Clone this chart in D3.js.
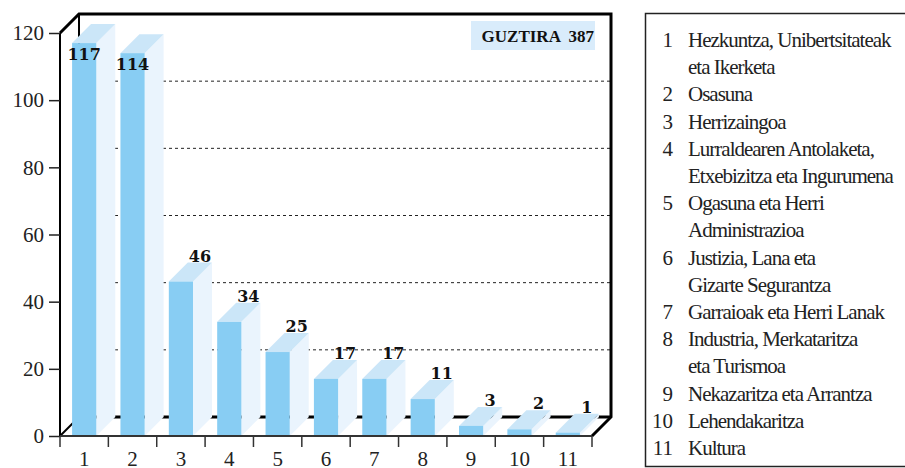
<!DOCTYPE html>
<html>
<head>
<meta charset="utf-8">
<script src="https://cdn.jsdelivr.net/npm/d3@7"></script>
<style>
  body { margin: 0; background: #fff; }
  svg { display: block; }
</style>
</head>
<body>
<div id="chart"></div>
<script>
// datuak
var categories = ["1", "2", "3", "4", "5", "6", "7", "8", "9", "10", "11"];
var values = [117, 114, 46, 34, 25, 17, 17, 11, 3, 2, 1];
var yTicks = [0, 20, 40, 60, 80, 100, 120];
var legendNames = [
    ["Hezkuntza, Unibertsitateak", "eta Ikerketa"],
    ["Osasuna"],
    ["Herrizaingoa"],
    ["Lurraldearen Antolaketa,", "Etxebizitza eta Ingurumena"],
    ["Ogasuna eta Herri", "Administrazioa"],
    ["Justizia, Lana eta", "Gizarte Segurantza"],
    ["Garraioak eta Herri Lanak"],
    ["Industria, Merkataritza", "eta Turismoa"],
    ["Nekazaritza eta Arrantza"],
    ["Lehendakaritza"],
    ["Kultura"]
];
var totalLabel = "GUZTIRA";

var width = 905, height = 468;
var depth = 19;               // 3D sakonera
var plotLeft = 60, plotRight = 592, plotBottom = 436, plotTop = 33;

var svg = d3.select("#chart")
    .append("svg")
    .attr("width", width)
    .attr("height", height);

var x = d3.scaleBand()
    .domain(categories)
    .range([plotLeft, plotRight])
    .paddingInner(0.5)
    .paddingOuter(0.25);

var xEdge = d3.scaleLinear().domain([0, categories.length]).range([plotLeft, plotRight]);

var y = d3.scaleLinear().domain([0, 120]).range([plotBottom, plotTop]);

// atzeko horma
var back = svg.append("g");
back.selectAll(".grid")
    .data(yTicks.filter(d => d > 0 && d < 120))
    .enter()
    .append("line")
    .attr("x1", plotLeft + depth)
    .attr("x2", plotRight + depth)
    .attr("y1", d => y(d) - depth)
    .attr("y2", d => y(d) - depth)
    .attr("stroke", "#222")
    .attr("stroke-width", 1)
    .attr("stroke-dasharray", "3,3");

back.append("line")   // ezkerreko atzeko lerroa
    .attr("x1", plotLeft + depth).attr("x2", plotLeft + depth)
    .attr("y1", y(120) - depth).attr("y2", y(0) - depth)
    .attr("stroke", "#000").attr("stroke-width", 2);

back.append("path")   // goiko eta eskuineko ertzak
    .attr("d", "M" + plotLeft + "," + y(120) +
        "L" + (plotLeft + depth) + "," + (y(120) - depth) +
        "L" + (plotRight + depth) + "," + (y(120) - depth) +
        "L" + (plotRight + depth) + "," + (y(0) - depth) +
        "L" + plotRight + "," + y(0))
    .attr("fill", "none")
    .attr("stroke", "#000")
    .attr("stroke-width", 3)
    .attr("stroke-linejoin", "miter");

back.append("line")   // zoruaren atzeko lerroa
    .attr("x1", plotLeft + depth).attr("x2", plotRight + depth)
    .attr("y1", y(0) - depth).attr("y2", y(0) - depth)
    .attr("stroke", "#000").attr("stroke-width", 3);

back.append("line")   // ezkerreko behe diagonala
    .attr("x1", plotLeft).attr("x2", plotLeft + depth)
    .attr("y1", y(0)).attr("y2", y(0) - depth)
    .attr("stroke", "#000").attr("stroke-width", 2);

// barrak
var bars = svg.selectAll(".bar")
    .data(values)
    .enter()
    .append("g")
    .attr("class", "bar");

bars.append("path")   // alboa
    .attr("d", function (d, i) {
        var x1 = x(categories[i]) + x.bandwidth();
        return "M" + x1 + "," + y(d) + "L" + (x1 + depth) + "," + (y(d) - depth) +
            "L" + (x1 + depth) + "," + (y(0) - depth) + "L" + x1 + "," + y(0) + "Z";
    })
    .attr("fill", "#eaf4fd");

bars.append("path")   // goialdea
    .attr("d", function (d, i) {
        var x0 = x(categories[i]), x1 = x0 + x.bandwidth();
        return "M" + x0 + "," + y(d) + "L" + (x0 + depth) + "," + (y(d) - depth) +
            "L" + (x1 + depth) + "," + (y(d) - depth) + "L" + x1 + "," + y(d) + "Z";
    })
    .attr("fill", "#cbe6f8");

bars.append("rect")   // aurrealdea
    .attr("x", (d, i) => x(categories[i]))
    .attr("y", d => y(d))
    .attr("width", x.bandwidth())
    .attr("height", d => y(0) - y(d))
    .attr("fill", "#88cdf3");

function labelInside(d) { return y(d) - depth - 14 < plotTop; }

bars.append("text")
    .attr("x", function (d, i) {
        var cx = x(categories[i]) + x.bandwidth() / 2;
        return labelInside(d) ? cx : cx + depth;
    })
    .attr("y", d => labelInside(d) ? y(d) + 17 : y(d) - depth - 1)
    .attr("text-anchor", "middle")
    .style("font-family", "'DejaVu Serif', serif")
    .style("font-weight", "bold")
    .style("font-size", "16px")
    .attr("fill", "#111")
    .text(d => d);

// aurreko ardatzak
svg.append("line")
    .attr("x1", plotLeft).attr("x2", plotLeft)
    .attr("y1", y(120)).attr("y2", y(0))
    .attr("stroke", "#000").attr("stroke-width", 2);

svg.append("line")
    .attr("x1", plotLeft).attr("x2", plotRight)
    .attr("y1", y(0)).attr("y2", y(0))
    .attr("stroke", "#333").attr("stroke-width", 2);

var yAxis = svg.append("g")
    .attr("transform", "translate(" + plotLeft + ",0)")
    .call(d3.axisLeft(y).tickValues(yTicks).tickSize(11).tickPadding(5));
yAxis.select(".domain").remove();
yAxis.selectAll(".tick line").attr("stroke", "#222").attr("stroke-width", 1.5);
yAxis.selectAll("text")
    .style("font-family", "'Liberation Serif', serif")
    .style("font-size", "21px")
    .attr("fill", "#222");

svg.selectAll(".xtick")
    .data(d3.range(categories.length + 1))
    .enter()
    .append("line")
    .attr("x1", d => xEdge(d)).attr("x2", d => xEdge(d))
    .attr("y1", y(0)).attr("y2", y(0) + 11)
    .attr("stroke", "#333").attr("stroke-width", 1.5);

svg.selectAll(".xlabel")
    .data(categories)
    .enter()
    .append("text")
    .attr("x", d => x(d) + x.bandwidth() / 2)
    .attr("y", 466)
    .attr("text-anchor", "middle")
    .style("font-family", "'Liberation Serif', serif")
    .style("font-size", "21px")
    .attr("fill", "#222")
    .text(d => d);

// guztira koadroa
svg.append("rect")
    .attr("x", 471).attr("y", 21)
    .attr("width", 124).attr("height", 29)
    .attr("fill", "#d9ecfb");
svg.append("text")
    .attr("x", 594).attr("y", 42)
    .attr("text-anchor", "end")
    .style("font-family", "'Liberation Serif', serif")
    .style("font-weight", "bold")
    .style("font-size", "17px")
    .attr("fill", "#111")
    .attr("xml:space", "preserve")
    .text(totalLabel + "  " + d3.sum(values));

// legenda
svg.append("rect")
    .attr("x", 645.5).attr("y", 13.5)
    .attr("width", 270).attr("height", 453)
    .attr("fill", "none")
    .attr("stroke", "#222")
    .attr("stroke-width", 1.5);

var rows = [];
legendNames.forEach(function (lines, i) {
    lines.forEach(function (t, j) {
        rows.push({ num: j === 0 ? categories[i] : "", text: t });
    });
});

var legend = svg.selectAll(".legend")
    .data(rows)
    .enter()
    .append("g")
    .attr("class", "legend")
    .attr("transform", (d, i) => "translate(0," + (47 + i * 27.2) + ")")
    .style("font-family", "'Liberation Serif', serif")
    .style("font-size", "21px")
    .attr("fill", "#222");

legend.append("text")
    .attr("x", 673)
    .attr("text-anchor", "end")
    .text(d => d.num);

legend.append("text")
    .attr("x", 688)
    .style("letter-spacing", "-1px")
    .text(d => d.text);
</script>
</body>
</html>
